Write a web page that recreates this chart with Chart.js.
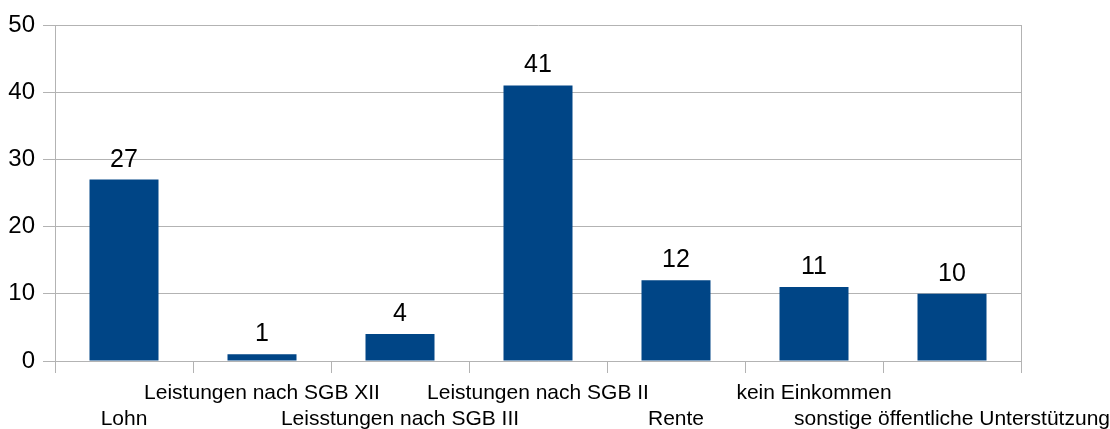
<!DOCTYPE html>
<html>
<head>
<meta charset="utf-8">
<script src="https://cdn.jsdelivr.net/npm/chart.js@4/dist/chart.umd.min.js"></script>
<style>
  html, body { margin: 0; padding: 0; background: #ffffff; }
  #wrap { width: 1110px; height: 429px; }
</style>
</head>
<body>
<div id="wrap"><canvas id="c" width="1110" height="429"></canvas></div>
<script>
const categories = [
  "Lohn",
  "Leistungen nach SGB XII",
  "Leisstungen nach SGB III",
  "Leistungen nach SGB II",
  "Rente",
  "kein Einkommen",
  "sonstige öffentliche Unterstützung"
];
const values = [27, 1, 4, 41, 12, 11, 10];
const yTicks = [0, 10, 20, 30, 40, 50];

const GRID = '#b3b3b3';
const BAR = '#004586';
const FONT = '"Liberation Sans", Arial, sans-serif';

// staggered labels: even index on second line, odd on first line
const labels = categories.map((c, i) => i % 2 === 0 ? ['', c] : [c]);

const valueLabels = {
  id: 'valueLabels',
  afterDatasetsDraw(chart) {
    const ctx = chart.ctx;
    const meta = chart.getDatasetMeta(0);
    ctx.save();
    ctx.fillStyle = '#000000';
    ctx.font = '25px ' + FONT;
    ctx.textAlign = 'center';
    ctx.textBaseline = 'alphabetic';
    meta.data.forEach((bar, i) => {
      ctx.fillText(String(values[i]), bar.x, bar.y - 13);
    });
    ctx.restore();
  }
};

new Chart(document.getElementById('c'), {
  type: 'bar',
  data: {
    labels: labels,
    datasets: [{
      data: values,
      backgroundColor: BAR,
      borderWidth: 0,
      categoryPercentage: 1.0,
      barPercentage: 0.5
    }]
  },
  options: {
    responsive: false,
    animation: false,
    layout: { padding: { top: 25, right: 89, left: 0, bottom: 0 } },
    plugins: {
      legend: { display: false },
      tooltip: { enabled: false },
      title: { display: false }
    },
    scales: {
      x: {
        offset: true,
        grid: {
          offset: true,
          drawOnChartArea: true,
          color: (ctx) => (ctx.type === 'scale' || ctx.index === 0) ? GRID : 'rgba(0,0,0,0)',
          tickColor: GRID,
          tickLength: 12,
          lineWidth: 1
        },
        border: { display: true, color: GRID },
        ticks: {
          autoSkip: false,
          maxRotation: 0,
          minRotation: 0,
          padding: 8,
          color: '#000000',
          font: { family: FONT, size: 21, lineHeight: 1.2 }
        },
        afterFit: (scale) => {
          scale.height = 68;
          scale.paddingLeft = 0;
          scale.paddingRight = 0;
        }
      },
      y: {
        min: 0,
        max: 50,
        afterBuildTicks: (scale) => { scale.ticks = yTicks.map(v => ({ value: v })); },
        grid: {
          color: GRID,
          tickColor: GRID,
          tickLength: 12,
          lineWidth: 1
        },
        border: { display: true, color: GRID },
        ticks: {
          padding: 8,
          color: '#000000',
          font: { family: FONT, size: 24 }
        },
        afterFit: (scale) => {
          scale.width = 55;
          scale.paddingTop = 0;
          scale.paddingBottom = 0;
        }
      }
    }
  },
  plugins: [valueLabels]
});
</script>
</body>
</html>
